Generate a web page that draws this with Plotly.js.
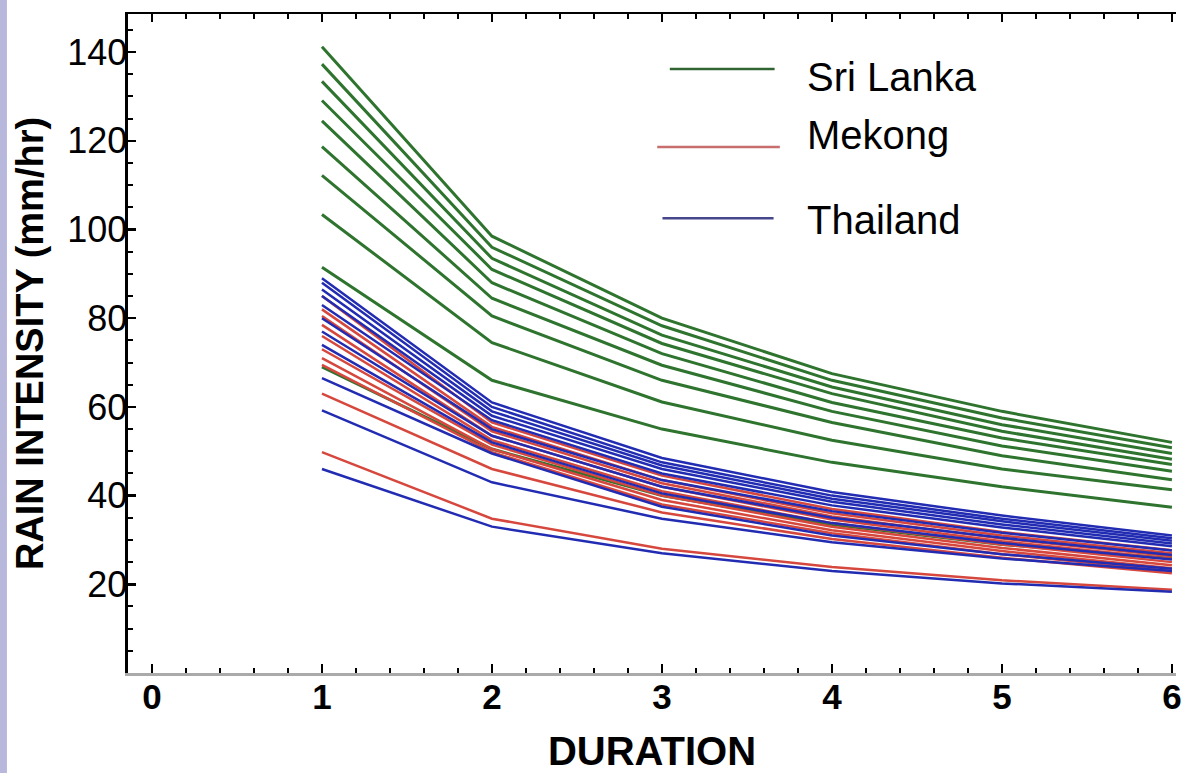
<!DOCTYPE html>
<html>
<head>
<meta charset="utf-8">
<script src="https://cdn.plot.ly/plotly-3.0.1.min.js"></script>
<style>
  html, body { margin: 0; padding: 0; background: #ffffff; }
  #chart { width: 1184px; height: 773px; }
</style>
</head>
<body>
<div id="chart"></div>
<script>
// Duration (hours)
const duration = [1, 2, 3, 4, 5, 6];

// Rain intensity (mm/hr) curves
const sriLanka = [
  [141.2, 98.5, 80.0, 67.5, 59.0, 52.0],
  [137.3, 96.0, 78.3, 66.0, 57.5, 50.8],
  [133.4, 93.5, 76.2, 64.5, 56.0, 49.5],
  [129.1, 91.0, 74.3, 63.0, 54.5, 48.2],
  [124.5, 88.0, 72.0, 61.0, 53.0, 47.0],
  [118.7, 84.5, 69.4, 59.0, 51.2, 45.5],
  [112.2, 80.5, 66.0, 56.5, 49.0, 43.6],
  [103.4, 74.5, 61.1, 52.5, 46.0, 41.3],
  [91.5, 66.0, 55.0, 47.5, 42.0, 37.4],
  [69.0, 50.5, 40.0, 33.5, 29.0, 25.8]
];

const mekong = [
  [85.0, 56.5, 44.5, 37.0, 31.8, 27.7],
  [82.0, 55.5, 43.5, 36.0, 31.0, 27.0],
  [80.5, 54.5, 42.8, 35.3, 30.3, 26.3],
  [78.5, 53.5, 42.0, 34.6, 29.7, 25.7],
  [76.0, 52.5, 41.0, 33.8, 29.0, 25.0],
  [73.0, 51.5, 40.0, 33.0, 28.2, 24.3],
  [71.0, 50.5, 39.0, 32.2, 27.5, 23.6],
  [69.5, 49.8, 38.0, 31.5, 26.8, 23.0],
  [63.0, 46.0, 36.2, 30.2, 26.0, 22.5],
  [49.8, 34.8, 28.0, 23.9, 20.9, 18.8]
];

const thailand = [
  [89.0, 61.0, 48.5, 40.8, 35.5, 31.0],
  [88.0, 60.0, 47.5, 40.0, 34.8, 30.4],
  [86.5, 59.0, 46.8, 39.3, 34.2, 29.8],
  [85.0, 58.0, 46.0, 38.6, 33.5, 29.2],
  [83.0, 57.0, 45.0, 37.8, 32.8, 28.6],
  [80.0, 55.0, 43.5, 36.5, 31.6, 27.6],
  [77.0, 53.5, 42.0, 35.0, 30.5, 26.6],
  [74.0, 52.0, 40.5, 33.8, 29.3, 25.6],
  [66.5, 49.5, 37.5, 31.0, 26.8, 23.5],
  [59.2, 43.0, 34.8, 29.5, 25.8, 23.0],
  [46.0, 33.0, 27.0, 23.0, 20.2, 18.3]
];

const legendNames = ["Sri Lanka", "Mekong", "Thailand"];
const xTickLabels = ["0", "1", "2", "3", "4", "5", "6"];
const yTickLabels = ["", "20", "40", "60", "80", "100", "120", "140"];

const colors = {
  "Sri Lanka": "rgb(46,116,46)",
  "Mekong": "rgb(214,72,62)",
  "Thailand": "rgb(34,44,178)"
};

const traces = [];
function addGroup(name, group, width) {
  group.forEach(function (vals) {
    traces.push({
      type: "scatter", mode: "lines", name: name,
      x: duration, y: vals,
      line: { color: colors[name], width: width },
      showlegend: false, hoverinfo: "x+y+name"
    });
  });
}
addGroup("Sri Lanka", sriLanka, 3.0);
addGroup("Mekong", mekong, 2.5);
addGroup("Thailand", thailand, 2.5);

// tick positions
const yMajor = [0, 20, 40, 60, 80, 100, 120, 140];
const yMinor = [];
for (let v = 5; v <= 145; v += 5) { if (v % 20 !== 0) yMinor.push(v); }
const xMajor = [0, 1, 2, 3, 4, 5, 6];

const tickFont = { family: "Liberation Sans, Arial, sans-serif", size: 36, color: "#000" };
const xTickFont = { family: "Liberation Sans, Arial, sans-serif", size: 35, color: "#000", weight: "bold" };

// legend drawn as decoration in paper coordinates
const legendY = [0.9165, 0.798, 0.690];
const legendTextY = [0.9044, 0.8164, 0.6874];
const legendX0 = [0.517, 0.505, 0.510];
const legendX1 = [0.617, 0.622, 0.616];
const legendLineColors = ["rgb(48,100,48)", "rgb(200,110,110)", "rgb(70,70,140)"];

const shapes = [
  // lavender strip on the left edge
  { type: "rect", xref: "paper", yref: "paper", x0: -0.1222, x1: -0.1155, y0: -0.16, y1: 1.03,
    fillcolor: "rgb(184,184,220)", line: { width: 0 }, layer: "above" }
];
const annotations = [];
legendNames.forEach(function (n, i) {
  shapes.push({ type: "line", xref: "paper", yref: "paper",
    x0: legendX0[i], x1: legendX1[i], y0: legendY[i], y1: legendY[i],
    line: { color: legendLineColors[i], width: 2.5 } });
  annotations.push({ xref: "paper", yref: "paper", x: 0.646, y: legendTextY[i],
    xanchor: "left", yanchor: "middle", showarrow: false, text: n,
    font: { family: "Liberation Sans, Arial, sans-serif", size: 40, color: "#000" } });
});

const layout = {
  width: 1184, height: 773,
  margin: { l: 128, r: 8, t: 14, b: 100, pad: 0 },
  paper_bgcolor: "#ffffff", plot_bgcolor: "#ffffff",
  showlegend: false,
  xaxis: {
    range: [-0.141, 6.024], showgrid: false, zeroline: false,
    showline: true, linecolor: "rgb(170,170,170)", linewidth: 3,
    tickmode: "array", tickvals: xMajor, ticktext: xTickLabels,
    ticks: "inside", ticklen: 9, tickwidth: 2.5, tickcolor: "#000",
    minor: { dtick: 0.2, tick0: 0, ticks: "inside", ticklen: 5, tickwidth: 2, tickcolor: "#000", showgrid: false },
    tickfont: xTickFont, ticklabelstandoff: -9,
    title: { text: "DURATION", font: { family: "Liberation Sans, Arial, sans-serif", size: 40, color: "#000", weight: "bold" }, standoff: 31 },
    automargin: false, fixedrange: true
  },
  xaxis2: {
    overlaying: "x", side: "top", anchor: "y", matches: "x",
    range: [-0.141, 6.024], showgrid: false, zeroline: false,
    showline: true, linecolor: "#000", linewidth: 2.5,
    tickmode: "array", tickvals: xMajor, showticklabels: false,
    ticks: "inside", ticklen: 8, tickwidth: 2.5, tickcolor: "#000",
    minor: { dtick: 0.2, tick0: 0, ticks: "inside", ticklen: 5, tickwidth: 2, tickcolor: "#000", showgrid: false },
    automargin: false
  },
  yaxis: {
    range: [0, 148.6], showgrid: false, zeroline: false,
    showline: true, linecolor: "#000", linewidth: 3.5,
    tickmode: "array", tickvals: yMajor, ticktext: yTickLabels,
    ticks: "inside", ticklen: 8, tickwidth: 2.5, tickcolor: "#000",
    minor: { tickmode: "array", tickvals: yMinor, ticks: "inside", ticklen: 5, tickwidth: 2, tickcolor: "#000", showgrid: false },
    tickfont: tickFont, ticklabelstandoff: -10,
    title: { text: "RAIN INTENSITY (mm/hr)", font: { family: "Liberation Sans, Arial, sans-serif", size: 38, color: "#000", weight: "bold" }, standoff: 13 },
    automargin: false, fixedrange: true
  },
  shapes: shapes,
  annotations: annotations
};

// an empty helper trace so the top axis is drawn
traces.push({ type: "scatter", mode: "lines", x: [], y: [], xaxis: "x2", yaxis: "y", showlegend: false, hoverinfo: "skip" });

Plotly.newPlot("chart", traces, layout, { displayModeBar: false, staticPlot: true });
</script>
</body>
</html>
